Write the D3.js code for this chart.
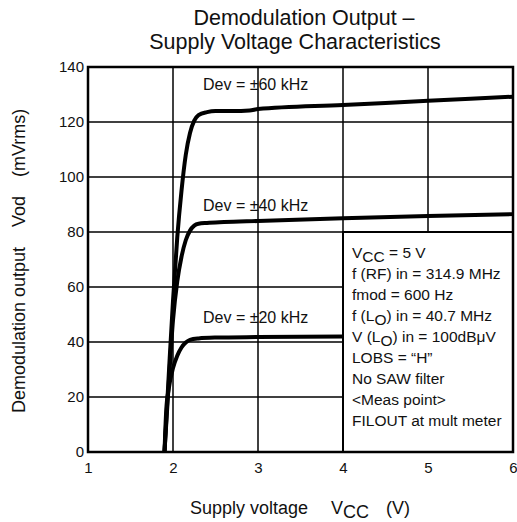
<!DOCTYPE html>
<html>
<head>
<meta charset="utf-8">
<script src="https://cdn.jsdelivr.net/npm/d3@7"></script>
<style>
  html, body { margin: 0; padding: 0; background: #fff; }
  svg { display: block; font-family: "Liberation Sans", Arial, Helvetica, sans-serif; }
</style>
</head>
<body>
<svg id="chart" width="517" height="522"></svg>
<script>
// Supply voltage (V) and demodulation output Vod (mVrms) for each deviation
const dev60Vcc = [1.9, 1.95, 2.0, 2.05, 2.1, 2.15, 2.2, 2.25, 2.3, 2.4, 2.5, 2.7, 2.9, 3.0, 4.0, 5.0, 6.0];
const dev60Vod = [0, 28, 55, 78, 95, 108, 116, 120.5, 122.5, 123.6, 124, 124, 124.2, 124.7, 126.2, 127.7, 129.2];

const dev40Vcc = [1.9, 1.95, 2.0, 2.05, 2.1, 2.15, 2.2, 2.25, 2.3, 2.4, 2.6, 3.0, 4.0, 5.0, 6.0];
const dev40Vod = [0, 25, 48, 62, 71, 77, 80.5, 82.3, 83, 83.3, 83.6, 84, 85, 85.8, 86.5];

const dev20Vcc = [1.9, 1.92, 1.95, 2.0, 2.05, 2.1, 2.15, 2.2, 2.3, 2.5, 3.0, 4.0];
const dev20Vod = [0, 15, 23, 30.5, 35, 38, 39.8, 40.8, 41.3, 41.6, 41.8, 42];

const seriesLabels = ["Dev = \u00B160 kHz", "Dev = \u00B140 kHz", "Dev = \u00B120 kHz"];
const xTicks = [1, 2, 3, 4, 5, 6];
const yTicks = [0, 20, 40, 60, 80, 100, 120, 140];

// Measurement conditions, as [text, isSubscript] runs per line
const conditionLines = [
  [["V", false], ["CC", true], [" = 5 V", false]],
  [["f (RF) in = 314.9 MHz", false]],
  [["fmod = 600 Hz", false]],
  [["f (L", false], ["O", true], [") in = 40.7 MHz", false]],
  [["V (L", false], ["O", true], [") in = 100dB\u03BCV", false]],
  [["LOBS = \u201CH\u201D", false]],
  [["No SAW filter", false]],
  [["<Meas point>", false]],
  [["FILOUT at mult meter", false]]
];

const svg = d3.select("#chart");
const margin = { left: 88, right: 4, top: 67, bottom: 70 };
const W = 517, H = 522;

const x = d3.scaleLinear().domain([1, 6]).range([margin.left, W - margin.right]);
const y = d3.scaleLinear().domain([0, 140]).range([H - margin.bottom, margin.top]);

// Title
const title = svg.append("text").attr("font-size", 21.5).attr("fill", "#111").attr("text-anchor", "middle");
title.append("tspan").attr("x", 304).attr("y", 25).text("Demodulation Output \u2013");
title.append("tspan").attr("x", 295).attr("y", 49).text("Supply Voltage Characteristics");

// Grid lines
const g = svg.append("g");
g.selectAll(".hgrid").data(yTicks.slice(1, -1)).join("line")
  .attr("x1", x(1)).attr("x2", x(6))
  .attr("y1", d => y(d)).attr("y2", d => y(d))
  .attr("stroke", "#000").attr("stroke-width", 1.5);
g.selectAll(".vgrid").data(xTicks.slice(1, -1)).join("line")
  .attr("x1", d => x(d)).attr("x2", d => x(d))
  .attr("y1", y(0)).attr("y2", y(140))
  .attr("stroke", "#000").attr("stroke-width", 1.5);

// Curves
const line = d3.line().x(d => x(d[0])).y(d => y(d[1])).curve(d3.curveMonotoneX);
const series = [
  d3.zip(dev60Vcc, dev60Vod),
  d3.zip(dev40Vcc, dev40Vod),
  d3.zip(dev20Vcc, dev20Vod)
];
g.selectAll(".curve").data(series).join("path")
  .attr("d", line)
  .attr("fill", "none").attr("stroke", "#000")
  .attr("stroke-width", 4).attr("stroke-linejoin", "round");

// Curve labels
const labelPos = [[2.353, 131.6], [2.353, 87.6], [2.353, 46.9]];
g.selectAll(".clabel").data(seriesLabels).join("text")
  .attr("x", (d, i) => x(labelPos[i][0]))
  .attr("y", (d, i) => y(labelPos[i][1]))
  .attr("font-size", 16).attr("fill", "#111")
  .text(d => d);

// Conditions box
const boxX0 = x(4), boxY0 = y(80);
svg.append("rect")
  .attr("x", boxX0).attr("y", boxY0)
  .attr("width", x(6) - boxX0).attr("height", y(0) - boxY0)
  .attr("fill", "#fff").attr("stroke", "#000").attr("stroke-width", 2);
conditionLines.forEach((runs, i) => {
  const t = svg.append("text")
    .attr("x", boxX0 + 9).attr("y", boxY0 + 26 + i * 21)
    .attr("font-size", 15.5).attr("fill", "#111");
  let shifted = false;
  runs.forEach(([s, isSub]) => {
    const ts = t.append("tspan").text(s);
    if (isSub && !shifted) { ts.attr("dy", 4); shifted = true; }
    else if (!isSub && shifted) { ts.attr("dy", -4); shifted = false; }
  });
});

// Frame
svg.append("rect")
  .attr("x", x(1)).attr("y", y(140))
  .attr("width", x(6) - x(1)).attr("height", y(0) - y(140))
  .attr("fill", "none").attr("stroke", "#000").attr("stroke-width", 2.5);

// Axes tick labels
const yAxis = d3.axisLeft(y).tickValues(yTicks).tickSize(0).tickPadding(4);
svg.append("g").attr("transform", `translate(${x(1)},0)`).call(yAxis)
  .call(s => s.select(".domain").remove())
  .call(s => s.selectAll("text").attr("font-size", 15).attr("fill", "#111")
    .attr("font-family", "Liberation Sans, Arial, sans-serif"));

const xAxis = d3.axisBottom(x).tickValues(xTicks).tickSize(0).tickPadding(10).tickFormat(d3.format("d"));
svg.append("g").attr("transform", `translate(0,${y(0)})`).call(xAxis)
  .call(s => s.select(".domain").remove())
  .call(s => s.selectAll("text").attr("font-size", 15).attr("fill", "#111")
    .attr("font-family", "Liberation Sans, Arial, sans-serif"));

// X axis title
const xt = svg.append("text").attr("font-size", 18).attr("fill", "#111").attr("y", 514);
xt.append("tspan").attr("x", 190).text("Supply voltage");
xt.append("tspan").attr("x", 331).text("V");
xt.append("tspan").attr("dy", 4).text("CC");
xt.append("tspan").attr("x", 386).attr("dy", -4).text("(V)");

// Y axis title
const yt = svg.append("text").attr("font-size", 18).attr("fill", "#111")
  .attr("transform", "translate(25,0) rotate(-90)");
yt.append("tspan").attr("x", -413).attr("y", 0).text("Demodulation output");
yt.append("tspan").attr("x", -227).attr("y", 0).text("Vod");
yt.append("tspan").attr("x", -177).attr("y", 0).text("(mVrms)");
</script>
</body>
</html>
